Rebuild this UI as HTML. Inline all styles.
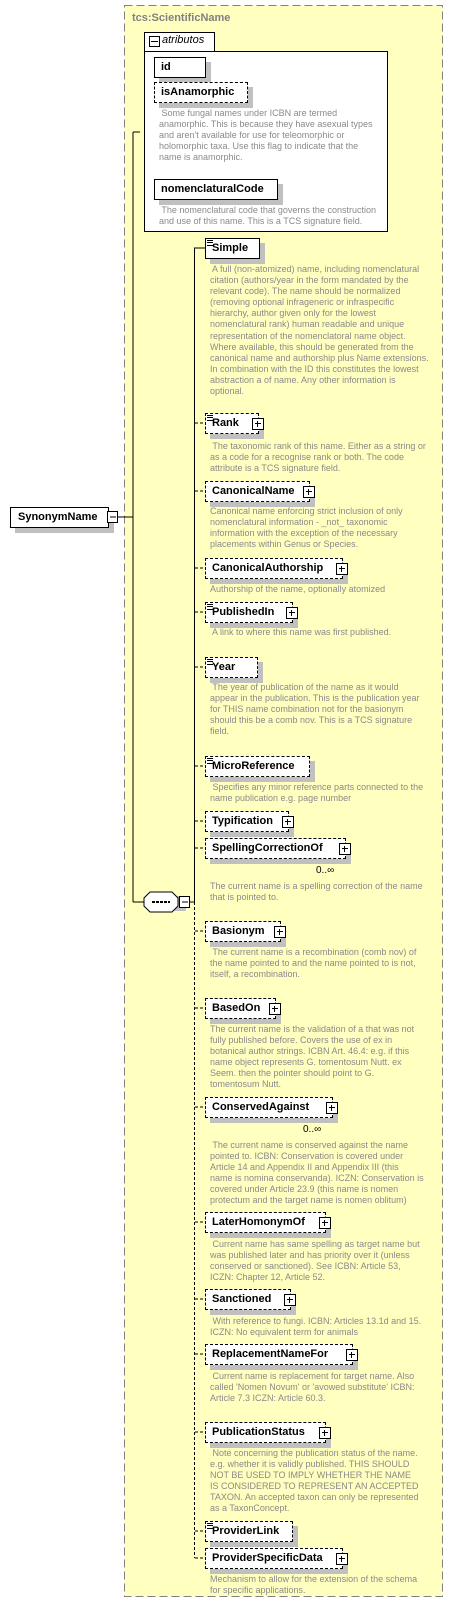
<!DOCTYPE html>
<html><head><meta charset="utf-8"><style>
body{margin:0;width:454px;height:1607px;background:#fff;position:relative;overflow:hidden;font-family:"Liberation Sans",sans-serif}
.a{position:absolute}
.box{position:absolute;height:19px;background:#fff;border:1px solid #000;box-shadow:5px 5px 0 #c0c0c0;font-weight:bold;font-size:11px;line-height:19px;padding-left:6px;box-sizing:content-box;white-space:nowrap}
.d{border-style:dashed}
.pl{position:absolute;right:-6px;top:4px;width:10px;height:10px;border:1px solid #000;background:#fff}
.pl:before{content:"";position:absolute;left:2px;top:4px;width:6px;height:1px;background:#000}
.pl:after{content:"";position:absolute;left:4px;top:2px;width:1px;height:6px;background:#000}
.desc{position:absolute;left:210px;font-size:9px;line-height:11px;color:#8a8a8a;white-space:pre}
.ic{position:absolute;left:1px;top:1px;width:6px;height:4px;border-top:1px solid #000;border-bottom:1px solid #000}
.ic:after{content:"";position:absolute;left:0;top:1px;width:6px;height:1px;background:#000}
</style></head><body>
<svg class="a" style="left:0;top:0" width="454" height="1607">
<rect x="124.5" y="5.5" width="318" height="1591" fill="#ffffc0" stroke="#808080" stroke-dasharray="8,4"/>
<line x1="118" y1="517" x2="133" y2="517" stroke="#000"/>
<line x1="133" y1="132" x2="133" y2="902" stroke="#000"/>
<line x1="133" y1="132" x2="140" y2="132" stroke="#000"/>
<line x1="133" y1="902" x2="144" y2="902" stroke="#000"/>
<line x1="190" y1="902" x2="195" y2="902" stroke="#000"/>
<line x1="194.5" y1="248" x2="194.5" y2="902" stroke="#000"/>
<line x1="194.5" y1="902" x2="194.5" y2="1558" stroke="#000" stroke-dasharray="3,2"/>
<line x1="194" y1="248" x2="205" y2="248" stroke="#000"/>
<g stroke="#000" stroke-dasharray="3,2">
<line x1="195" y1="423" x2="205" y2="423"/><line x1="195" y1="491" x2="205" y2="491"/>
<line x1="195" y1="568" x2="205" y2="568"/><line x1="195" y1="612" x2="205" y2="612"/>
<line x1="195" y1="667" x2="205" y2="667"/><line x1="195" y1="766" x2="205" y2="766"/>
<line x1="195" y1="821" x2="205" y2="821"/><line x1="195" y1="848" x2="205" y2="848"/>
<line x1="195" y1="931" x2="205" y2="931"/><line x1="195" y1="1008" x2="205" y2="1008"/>
<line x1="195" y1="1107" x2="205" y2="1107"/><line x1="195" y1="1222" x2="205" y2="1222"/>
<line x1="195" y1="1299" x2="205" y2="1299"/><line x1="195" y1="1354" x2="205" y2="1354"/>
<line x1="195" y1="1432" x2="205" y2="1432"/><line x1="195" y1="1531" x2="205" y2="1531"/>
<line x1="195" y1="1558" x2="205" y2="1558"/>
</g>
<polygon points="152,896 151,897 151,910 152,911 185,911 186,910 186,897 185,896" fill="#c0c0c0"/>
<polygon points="150,892 172,892 178,898 178,906 172,912 150,912 144,906 144,898" fill="#fff" stroke="#000"/>
<line x1="152" y1="902" x2="170" y2="902" stroke="#000" stroke-width="2" stroke-dasharray="3,1"/>
<rect x="179.5" y="896.5" width="10" height="11" fill="#fff" stroke="#000"/>
<line x1="182" y1="902" x2="188" y2="902" stroke="#000"/>
<rect x="107.5" y="511.5" width="10" height="11" fill="#fff" stroke="#000"/>
<line x1="110" y1="517" x2="116" y2="517" stroke="#000"/>
</svg>
<div class="a" style="left:132px;top:12px;font-size:11px;font-weight:bold;color:#808080">tcs:ScientificName</div>
<div class="a" style="left:144px;top:32px;width:69px;height:19px;border:1px solid #000;border-bottom:none;background:#fff"></div>
<div class="a" style="left:144px;top:51px;width:242px;height:179px;border:1px solid #000;background:#fff"></div>
<div class="a" style="left:149px;top:36px;width:9px;height:9px;border:1px solid #000;background:#fff"><div class="a" style="left:1px;top:4px;width:7px;height:1px;background:#000"></div></div>
<div class="a" style="left:162px;top:34px;font-size:11px;font-style:italic">atributos</div>
<div class="box" style="left:154px;top:57px;width:44px">id</div>
<div class="box d" style="left:154px;top:82px;width:86px">isAnamorphic</div>
<div class="desc" style="left:159px;top:108px"> Some fungal names under ICBN are termed
anamorphic. This is because they have asexual types
and aren't available for use for teleomorphic or
holomorphic taxa. Use this flag to indicate that the
name is anamorphic.</div>
<div class="box" style="left:154px;top:179px;width:116px">nomenclaturalCode</div>
<div class="desc" style="left:159px;top:205px"> The nomenclatural code that governs the construction
and use of this name. This is a TCS signature field.</div>

<div class="box" style="left:10px;top:507px;width:90px;padding-left:7px">SynonymName</div>
<svg class="a" style="left:0;top:0" width="120" height="530"><rect x="107.5" y="511.5" width="10" height="11" fill="#fff" stroke="#000"/><line x1="110" y1="517" x2="116" y2="517" stroke="#000"/></svg>

<div class="box" style="left:205px;top:238px;width:47px"><span class="ic"></span>Simple</div>
<div class="desc" style="top:264px;line-height:11.1px"> A full (non-atomized) name, including nomenclatural
citation (authors/year in the form mandated by the
relevant code). The name should be normalized
(removing optional infrageneric or infraspecific
hierarchy, author given only for the lowest
nomenclatural rank) human readable and unique
representation of the nomenclatoral name object.
Where available, this should be generated from the
canonical name and authorship plus Name extensions.
In combination with the ID this constitutes the lowest
abstraction a of name. Any other information is
optional.</div>

<div class="box d" style="left:205px;top:413px;width:46px"><span class="ic"></span>Rank<span class="pl"></span></div>
<div class="desc" style="top:441px"> The taxonomic rank of this name. Either as a string or
as a code for a recognise rank or both. The code
attribute is a TCS signature field.</div>
<div class="box d" style="left:205px;top:481px;width:97px">CanonicalName<span class="pl"></span></div>
<div class="desc" style="top:506px">Canonical name enforcing strict inclusion of only
nomenclatural information - _not_ taxonomic
information with the exception of the necessary
placements within Genus or Species.</div>
<div class="box d" style="left:205px;top:558px;width:130px">CanonicalAuthorship<span class="pl"></span></div>
<div class="desc" style="top:584px">Authorship of the name, optionally atomized</div>
<div class="box d" style="left:205px;top:602px;width:80px"><span class="ic"></span>PublishedIn<span class="pl"></span></div>
<div class="desc" style="top:627px"> A link to where this name was first published.</div>
<div class="box d" style="left:205px;top:657px;width:45px"><span class="ic"></span>Year</div>
<div class="desc" style="top:682px"> The year of publication of the name as it would
appear in the publication. This is the publication year
for THIS name combination not for the basionym
should this be a comb nov. This is a TCS signature
field.</div>
<div class="box d" style="left:205px;top:756px;width:97px"><span class="ic"></span>MicroReference</div>
<div class="desc" style="top:782px"> Specifies any minor reference parts connected to the
name publication e.g. page number</div>
<div class="box d" style="left:205px;top:811px;width:76px">Typification<span class="pl"></span></div>
<div class="box d" style="left:205px;top:838px;width:133px">SpellingCorrectionOf<span class="pl"></span></div>
<div class="a" style="left:316px;top:865px;font-size:10px">0..∞</div>
<div class="desc" style="top:881px">The current name is a spelling correction of the name
that is pointed to.</div>
<div class="box d" style="left:205px;top:921px;width:68px">Basionym<span class="pl"></span></div>
<div class="desc" style="top:947px"> The current name is a recombination (comb nov) of
the name pointed to and the name pointed to is not,
itself, a recombination.</div>
<div class="box d" style="left:205px;top:998px;width:63px">BasedOn<span class="pl"></span></div>
<div class="desc" style="top:1024px">The current name is the validation of a that was not
fully published before. Covers the use of ex in
botanical author strings. ICBN Art. 46.4: e.g. if this
name object represents G. tomentosum Nutt. ex
Seem. then the pointer should point to G.
tomentosum Nutt.</div>
<div class="box d" style="left:205px;top:1097px;width:120px">ConservedAgainst<span class="pl"></span></div>
<div class="a" style="left:303px;top:1124px;font-size:10px">0..∞</div>
<div class="desc" style="top:1140px"> The current name is conserved against the name
pointed to. ICBN: Conservation is covered under
Article 14 and Appendix II and Appendix III (this
name is nomina conservanda). ICZN: Conservation is
covered under Article 23.9 (this name is nomen
protectum and the target name is nomen oblitum)</div>
<div class="box d" style="left:205px;top:1212px;width:113px">LaterHomonymOf<span class="pl"></span></div>
<div class="desc" style="top:1239px"> Current name has same spelling as target name but
was published later and has priority over it (unless
conserved or sanctioned). See ICBN: Article 53,
ICZN: Chapter 12, Article 52.</div>
<div class="box d" style="left:205px;top:1289px;width:78px">Sanctioned<span class="pl"></span></div>
<div class="desc" style="top:1316px"> With reference to fungi. ICBN: Articles 13.1d and 15.
ICZN: No equivalent term for animals</div>
<div class="box d" style="left:205px;top:1344px;width:140px">ReplacementNameFor<span class="pl"></span></div>
<div class="desc" style="top:1371px"> Current name is replacement for target name. Also
called 'Nomen Novum' or 'avowed substitute' ICBN:
Article 7.3 ICZN: Article 60.3.</div>
<div class="box d" style="left:205px;top:1422px;width:113px">PublicationStatus<span class="pl"></span></div>
<div class="desc" style="top:1448px"> Note concerning the publication status of the name.
e.g. whether it is validly published. THIS SHOULD
NOT BE USED TO IMPLY WHETHER THE NAME
IS CONSIDERED TO REPRESENT AN ACCEPTED
TAXON. An accepted taxon can only be represented
as a TaxonConcept.</div>
<div class="box d" style="left:205px;top:1521px;width:80px"><span class="ic"></span>ProviderLink</div>
<div class="box d" style="left:205px;top:1548px;width:130px">ProviderSpecificData<span class="pl"></span></div>
<div class="desc" style="top:1574px">Mechanism to allow for the extension of the schema
for specific applications.</div>
</body></html>
